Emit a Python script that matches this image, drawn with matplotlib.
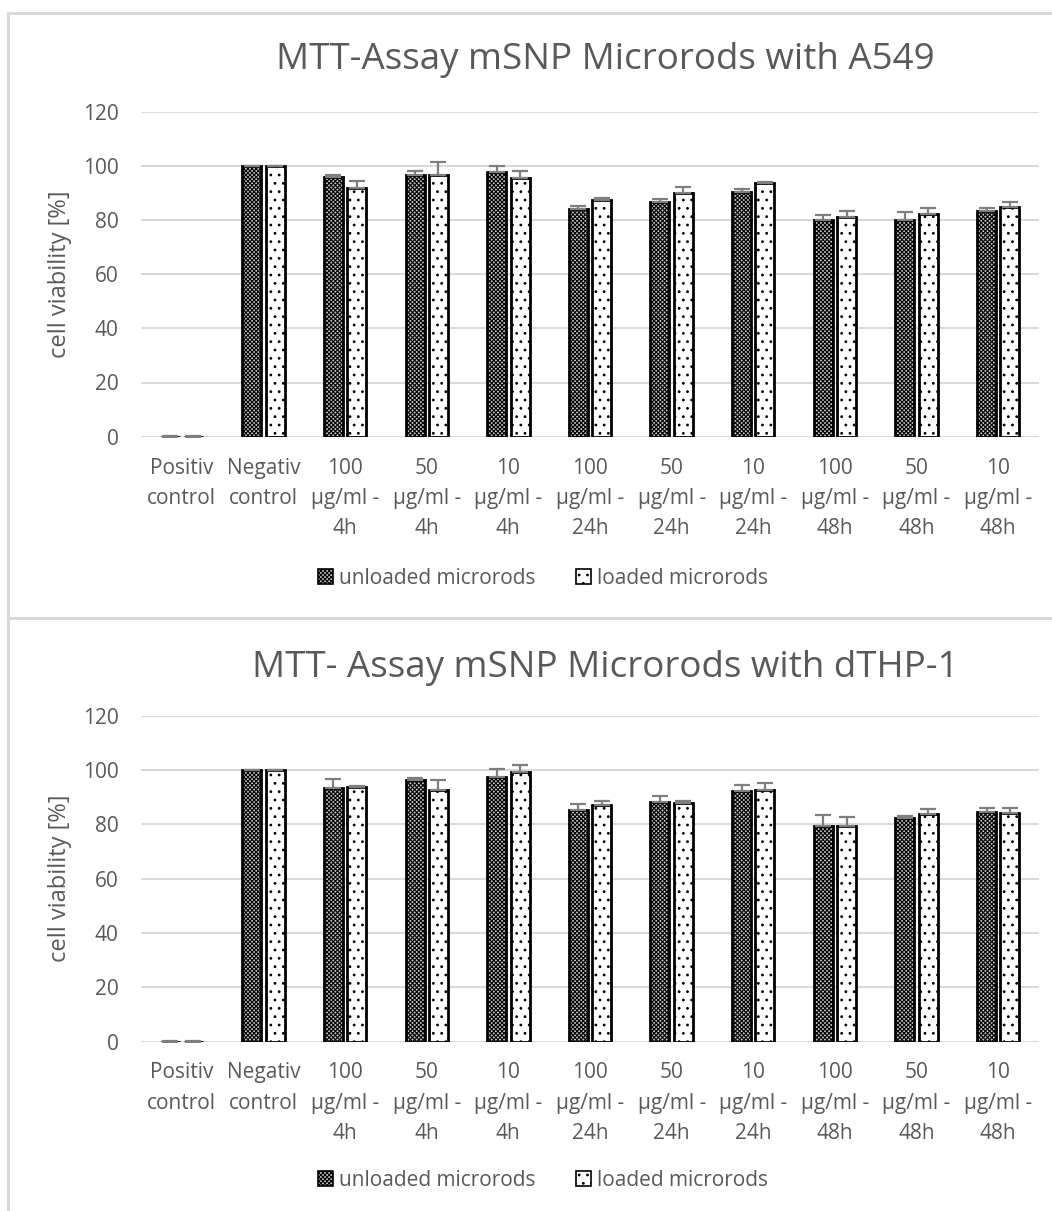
import numpy as np
import matplotlib
matplotlib.use("Agg")
import matplotlib.pyplot as plt
from matplotlib.lines import Line2D
from matplotlib.patches import Patch

categories = [
    "Positiv\ncontrol", "Negativ\ncontrol",
    "100\nµg/ml -\n4h", "50\nµg/ml -\n4h", "10\nµg/ml -\n4h",
    "100\nµg/ml -\n24h", "50\nµg/ml -\n24h", "10\nµg/ml -\n24h",
    "100\nµg/ml -\n48h", "50\nµg/ml -\n48h", "10\nµg/ml -\n48h",
]
series_names = ["unloaded microrods", "loaded microrods"]
yticks = [0, 20, 40, 60, 80, 100, 120]

# A549 cells
a549_unloaded = [0.0, 100.0, 96.0, 96.7, 97.7, 84.0, 86.6, 90.4, 80.1, 80.1, 83.2]
a549_unloaded_err = [0.2, 0.0, 0.7, 1.3, 2.3, 1.1, 1.0, 1.0, 1.7, 2.8, 1.3]
a549_loaded = [0.0, 100.0, 91.7, 96.7, 95.5, 87.2, 89.9, 93.5, 81.1, 82.1, 84.8]
a549_loaded_err = [0.2, 0.0, 2.8, 4.7, 2.7, 0.8, 2.4, 0.6, 2.1, 2.4, 1.7]

# dTHP-1 cells
thp_unloaded = [0.0, 100.0, 93.3, 96.4, 97.4, 85.2, 88.3, 92.2, 79.2, 82.3, 84.5]
thp_unloaded_err = [0.2, 0.0, 3.4, 0.6, 2.8, 2.3, 2.2, 2.2, 4.2, 0.6, 1.6]
thp_loaded = [0.0, 100.0, 93.7, 92.7, 99.4, 87.0, 87.7, 92.7, 79.3, 83.8, 84.3]
thp_loaded_err = [0.2, 0.0, 0.4, 3.7, 2.3, 1.7, 0.8, 2.4, 3.5, 1.8, 1.6]

titles = ["MTT-Assay mSNP Microrods with A549", "MTT- Assay mSNP Microrods with dTHP-1"]

FONT = ["Open Sans", "DejaVu Sans"]
TXT = "#595959"
GRID = "#d9d9d9"
FS = 15
plt.rcParams["font.family"] = FONT
plt.rcParams["hatch.linewidth"] = 0.8

UNL_FACE, UNL_HATCH = "#c4c4c4", "xxxxxxxx"
LOD_FACE, LOD_HATCH = "white", ".."

W, H = 1052, 1211
fig = plt.figure(figsize=(W / 100, H / 100), dpi=100)

def fx(px):
    return px / W

def fy(py):
    return 1 - py / H

# outer chart frames
for (xa, xb), (ya, yb) in [((8, 8), (13, H)), ((8, W), (13, 13)), ((8, W), (618, 618))]:
    fig.add_artist(Line2D([fx(xa), fx(xb)], [fy(ya), fy(yb)],
                          color=GRID, lw=2.2, transform=fig.transFigure))

panels = [
    (a549_unloaded, a549_unloaded_err, a549_loaded, a549_loaded_err, 436.7, 111.5, 60, 578),
    (thp_unloaded, thp_unloaded_err, thp_loaded, thp_loaded_err, 1041.5, 715.7, 668, 1180),
]

x = np.arange(len(categories))
bw = 0.233
off = 0.143

for i, (u, ue, l, le, p0, p120, ty, ly) in enumerate(panels):
    ax = fig.add_axes([fx(141), fy(p0), fx(1039) - fx(141), (p0 - p120) / H])
    ax.set_xlim(-0.5, len(categories) - 0.5)
    ax.set_ylim(0, 120)
    ax.set_yticks(yticks)
    ax.grid(axis="y", color=GRID, lw=1.5)
    ax.set_axisbelow(True)
    for s in ax.spines.values():
        s.set_visible(False)
    ax.tick_params(axis="y", length=0, pad=16, labelsize=FS, labelcolor=TXT)
    ax.tick_params(axis="x", length=0, pad=15, labelsize=FS, labelcolor=TXT)
    ax.set_xticks(x)
    ax.set_xticklabels(categories, linespacing=1.58)
    ax.set_ylabel("cell viability [%]", fontsize=17, color=TXT, labelpad=8)

    # unloaded: dark checkered fill
    ax.bar(x - off, u, bw, color=UNL_FACE, edgecolor="black", hatch=UNL_HATCH, lw=0, zorder=2)
    ax.bar(x - off, u, bw, fill=False, edgecolor="black", lw=2.0, zorder=3)
    # loaded: white with sparse dots
    ax.bar(x + off, l, bw, color=LOD_FACE, edgecolor="black", hatch=LOD_HATCH, lw=0, zorder=2)
    ax.bar(x + off, l, bw, fill=False, edgecolor="black", lw=2.0, zorder=3)

    ax.errorbar(x - off, u, yerr=[np.zeros(len(u)), ue], fmt="none", ecolor="#7f7f7f",
                elinewidth=1.6, capsize=6, capthick=1.6, zorder=4)
    ax.errorbar(x + off, l, yerr=[np.zeros(len(l)), le], fmt="none", ecolor="#7f7f7f",
                elinewidth=1.6, capsize=6, capthick=1.6, zorder=4)

    fig.text(fx(605), fy(ty), titles[i], ha="center", va="center", fontsize=26.5, color=TXT)

    handles = [
        Patch(facecolor=UNL_FACE, edgecolor="black", hatch=UNL_HATCH, lw=1.2),
        Patch(facecolor=LOD_FACE, edgecolor="black", hatch=LOD_HATCH, lw=1.2),
    ]
    fig.legend(handles, series_names, loc="center", bbox_to_anchor=(fx(543), fy(ly)),
               ncol=2, frameon=False, fontsize=FS, labelcolor=TXT,
               handlelength=0.75, handleheight=0.75, handletextpad=0.3, columnspacing=1.9)

fig.savefig("out.png", dpi=100, facecolor="white")
